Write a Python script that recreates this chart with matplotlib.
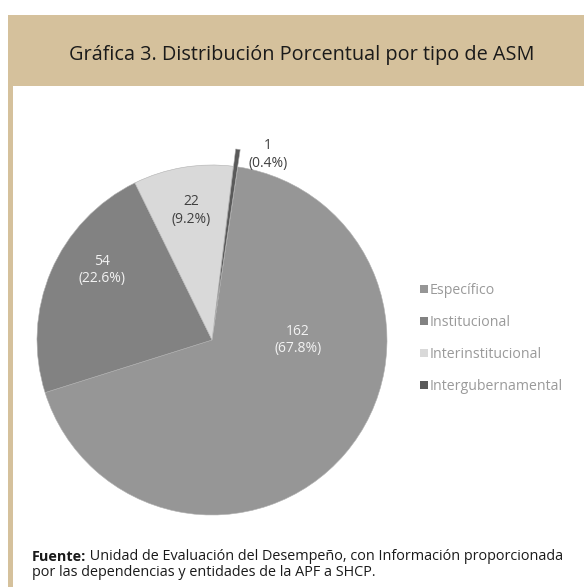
import matplotlib
matplotlib.use("Agg")
import matplotlib.pyplot as plt
from matplotlib.patches import Rectangle
import numpy as np

categories = ["Específico", "Institucional", "Interinstitucional", "Intergubernamental"]
values = [162, 54, 22, 1]
colors = ["#969696", "#828282", "#d9d9d9", "#5a5a5a"]
label_colors = ["#f2f2f2", "#f2f2f2", "#404040", "#404040"]
explode = [0, 0, 0, 0.10]
label_pos = [(0.49, 0.0), (-0.63, 0.40), (-0.12, 0.74), (0.32, 1.06)]

title = "Gráfica 3. Distribución Porcentual por tipo de ASM"
source_bold = "Fuente:"
source_rest = " Unidad de Evaluación del Desempeño, con Información proporcionada"
source_line2 = "por las dependencias y entidades de la APF a SHCP."

plt.rcParams['font.family'] = ['Open Sans', 'DejaVu Sans']
W, H = 584, 587
fig = plt.figure(figsize=(W / 100, H / 100), dpi=100)
fig.patch.set_facecolor("white")

tan = "#d5c19c"
# header band
fig.add_artist(Rectangle((8 / W, 1 - 86 / H), (W - 8) / W, 71 / H, transform=fig.transFigure,
                         facecolor=tan, edgecolor="none"))
# left border
fig.add_artist(Rectangle((8 / W, 0), 5 / W, 1 - 86 / H, transform=fig.transFigure,
                         facecolor=tan, edgecolor="none"))
fig.text(302 / W, 1 - 55 / H, title, ha="center", va="center", fontsize=14.3, color="#1a1a1a")

# pie
cx, cy, r = 212, 340, 175
ax = fig.add_axes([(cx - r) / W, (H - cy - r) / H, 2 * r / W, 2 * r / H])
total = sum(values)
wedges, _ = ax.pie(values, colors=colors, explode=explode, startangle=81.5, counterclock=False,
                   radius=1, wedgeprops=dict(edgecolor="#b0b0b0", linewidth=0.4))
for w in wedges:
    w.set_clip_on(False)
ax.set_xlim(-1, 1)
ax.set_ylim(-1, 1)
ax.set_aspect("auto")
ax.axis("off")
for v, (x, y), c in zip(values, label_pos, label_colors):
    ax.text(x, y, f"{v}\n({100 * v / total:.1f}%)", ha="center", va="center",
            fontsize=10, color=c, linespacing=1.2)

# legend
handles = [Rectangle((0, 0), 1, 1, facecolor=c, edgecolor="none") for c in colors]
fig.legend(handles, categories, loc="upper left", bbox_to_anchor=(420 / W, 1 - 283 / H),
           frameon=False, fontsize=10.2, labelcolor="#9a9a9a", handlelength=0.55, handleheight=0.55,
           handletextpad=0.15, labelspacing=1.2, borderaxespad=0, borderpad=0)

# footer
fs = 10.4
t = fig.text(32 / W, 1 - 557 / H, source_bold, fontsize=fs, fontweight="bold", color="#1a1a1a",
             ha="left", va="center")
fig.canvas.draw()
bb = t.get_window_extent()
fig.text(bb.x1 / W, 1 - 557 / H, source_rest, fontsize=fs, color="#1a1a1a", ha="left", va="center")
fig.text(32 / W, 1 - 573 / H, source_line2, fontsize=fs, color="#1a1a1a", ha="left", va="center")

fig.savefig("out.png", dpi=100, facecolor="white")
